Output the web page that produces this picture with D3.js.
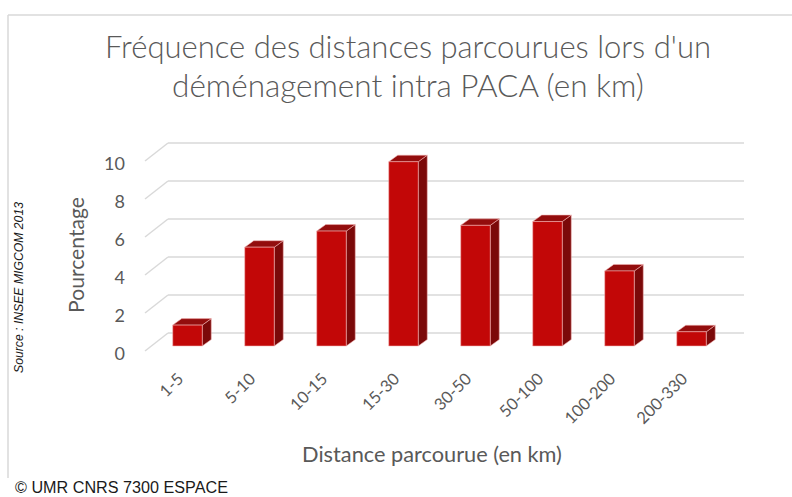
<!DOCTYPE html>
<html><head><meta charset="utf-8">
<script src="https://cdn.jsdelivr.net/npm/d3@7"></script>
<style>body{margin:0;background:#fff}svg{display:block}</style>
</head><body>
<script>
const categories = ["1-5","5-10","10-15","15-30","30-50","50-100","100-200","200-330"];
const values = [1.1, 5.2, 6.05, 9.7, 6.35, 6.55, 3.95, 0.75];
const yTicks = [0, 2, 4, 6, 8, 10];
const titleLines = ["Fréquence des distances parcourues lors d'un", "déménagement intra PACA (en km)"];
const xTitle = "Distance parcourue (en km)";
const yTitle = "Pourcentage";
const sourceText = "Source : INSEE MIGCOM 2013";
const credit = "© UMR CNRS 7300 ESPACE";

const W = 792, H = 497;
const svg = d3.select("body").append("svg").attr("width", W).attr("height", H);
const font = "Lato, 'Open Sans', sans-serif";
const grey = "#595959";

function fit(sel, target) {
  const n = sel.node();
  const fs = parseFloat(sel.attr("font-size"));
  const len = n.getComputedTextLength();
  if (len > 0) sel.attr("font-size", (fs * target / len).toFixed(2));
}

// frame
svg.append("line").attr("x1", 8).attr("x2", W).attr("y1", 15).attr("y2", 15)
  .attr("stroke", "#d9d9d9").attr("stroke-width", 1.5);
svg.append("line").attr("x1", 8).attr("x2", 8).attr("y1", 15).attr("y2", 478)
  .attr("stroke", "#d9d9d9").attr("stroke-width", 1.5);

// scales (front plane)
const x = d3.scaleBand().domain(categories).range([145, 721]).paddingInner(0.59).paddingOuter(0.295);
const y = d3.scaleLinear().domain([0, 10]).range([351, 161]);
const D = [23, -18];      // depth of the floor/wall
const bOff = [6.5, -5];   // bar front face offset into depth
const bD = [9, -6.5];     // bar depth

// gridlines
const grid = svg.append("g").attr("stroke", "#d9d9d9").attr("stroke-width", 1.5).attr("fill", "none");
yTicks.forEach(v => {
  grid.append("line").attr("x1", 145).attr("y1", y(v)).attr("x2", 145 + D[0]).attr("y2", y(v) + D[1]);
  grid.append("line").attr("x1", 145 + D[0]).attr("y1", y(v) + D[1]).attr("x2", 721 + D[0]).attr("y2", y(v) + D[1]);
});

// y tick labels
svg.append("g").selectAll("text").data(yTicks).join("text")
  .attr("x", 125).attr("y", d => y(d) + 2)
  .attr("text-anchor", "end").attr("dominant-baseline", "central")
  .attr("font-family", font).attr("font-size", 18).attr("fill", grey)
  .text(d => d);

// bars
const bars = svg.append("g");
categories.forEach((c, i) => {
  const x0 = x(c) + bOff[0], x1 = x0 + x.bandwidth();
  const yb = y(0) + bOff[1], yt = y(values[i]) + bOff[1];
  const g = bars.append("g").attr("stroke", "#f2b3b3").attr("stroke-width", 0.8).attr("stroke-opacity", 0.7)
    .attr("stroke-linejoin", "round");
  g.append("polygon").attr("fill", "#7b0909")
    .attr("points", [[x1, yt], [x1 + bD[0], yt + bD[1]], [x1 + bD[0], yb + bD[1]], [x1, yb]].join(" "));
  g.append("polygon").attr("fill", "#930d0d")
    .attr("points", [[x0, yt], [x0 + bD[0], yt + bD[1]], [x1 + bD[0], yt + bD[1]], [x1, yt]].join(" "));
  g.append("rect").attr("fill", "#c20707")
    .attr("x", x0).attr("y", yt).attr("width", x.bandwidth()).attr("height", yb - yt);
});

// x tick labels
svg.append("g").selectAll("text").data(categories).join("text")
  .attr("transform", d => `translate(${x(d) + bOff[0] + x.bandwidth() / 2 - 3},380) rotate(-45)`)
  .attr("text-anchor", "end")
  .attr("font-family", font).attr("font-size", 16.5).attr("fill", grey)
  .text(d => d);

// title
titleLines.forEach((t, i) => {
  const s = svg.append("text").attr("x", 408).attr("y", 58 + i * 39)
    .attr("text-anchor", "middle").attr("font-family", font).attr("font-size", 28)
    .attr("font-weight", 300).attr("fill", grey).text(t);
  fit(s, i === 0 ? 606 : 472);
});

// axis titles
const xt = svg.append("text").attr("x", 432).attr("y", 462).attr("text-anchor", "middle")
  .attr("font-family", font).attr("font-size", 19).attr("fill", grey).text(xTitle);
fit(xt, 260);
const yt = svg.append("text").attr("transform", "translate(84,255) rotate(-90)").attr("text-anchor", "middle")
  .attr("font-family", font).attr("font-size", 18).attr("fill", grey).text(yTitle);
fit(yt, 116);

// source & credit
const st = svg.append("text").attr("transform", "translate(23,287.5) rotate(-90)").attr("text-anchor", "middle")
  .attr("font-family", "'Liberation Sans', Arial, sans-serif").attr("font-style", "italic")
  .attr("font-size", 12).attr("fill", "#1a1a1a").text(sourceText);
fit(st, 171);
const cr = svg.append("text").attr("x", 15).attr("y", 493)
  .attr("font-family", "'Liberation Sans', Arial, sans-serif")
  .attr("font-size", 16).attr("fill", "#1a1a1a").text(credit);
fit(cr, 213);
</script>
</body></html>
